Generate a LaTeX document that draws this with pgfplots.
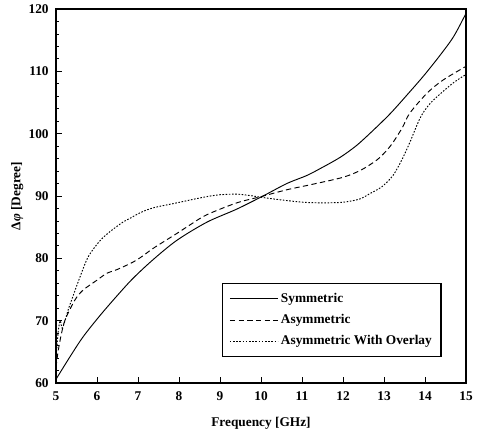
\documentclass[border=0pt]{standalone}
\usepackage{fontspec}
\setmainfont{Liberation Serif}
\usepackage{pgfplots}
\pgfplotsset{compat=1.18}

\begin{document}
\begin{tikzpicture}
\begin{axis}[
  name=ax,
  scale only axis,
  width=307.5pt, height=280.5pt,
  xmin=5, xmax=15, ymin=60, ymax=120,
  xtick={5,6,...,15}, ytick={60,70,...,120},
  minor y tick num=4,
  tick align=inside, tick pos=left,
  major tick length=4.5pt, minor tick length=2.5pt,
  axis line style={line width=0.9pt},
  every tick/.style={line width=0.6pt},
  /pgf/number format/assume math mode=true,
  tick label style={font=\fontsize{10}{12}\selectfont\bfseries},
  xticklabel style={yshift=-3pt},
  yticklabel style={xshift=-2pt},
  xlabel={Frequency [GHz]},
  ylabel={Δ\textit{φ} [Degree]},
  label style={font=\fontsize{10}{12}\selectfont\bfseries},
  xlabel style={at={(axis description cs:0.5,0)}, anchor=center, yshift=-30pt},
  ylabel style={at={(axis description cs:0,0.5)}, anchor=center, yshift=29pt},
  legend style={at={(0.941,0.267)}, anchor=north east, draw=black, line width=1pt,
    font=\fontsize{10}{12}\selectfont\bfseries, row sep=3.5pt,
    inner xsep=5pt, inner ysep=5pt},
  legend cell align=left,
  legend image code/.code={\draw[#1, line width=0.7pt] (0pt,0pt) -- (36pt,0pt);},
]
\addplot[black, line width=0.7pt, smooth] coordinates {
  (5,60.6)(5.34,64.2)(5.66,67.4)(6.07,70.8)(6.49,74.0)(6.88,76.8)(7.37,79.8)
  (7.95,82.9)(8.68,85.8)(9.41,87.9)(10.05,90.0)(10.63,92.0)(11.12,93.3)
  (11.5,94.6)(11.93,96.2)(12.33,98.1)(12.73,100.5)(13.15,103.2)(13.56,106.2)
  (13.97,109.3)(14.37,112.6)(14.7,115.6)(15,119.3)};
\addplot[black, line width=0.7pt, smooth, dash pattern=on 4pt off 2.5pt] coordinates {
  (5.0,62.5)(5.05,65)(5.12,67.5)(5.22,70.1)(5.46,73.3)(5.66,74.9)(6.0,76.5)
  (6.24,77.6)(6.49,78.2)(6.88,79.4)(7.12,80.4)(7.37,81.6)(7.95,84.0)(8.3,85.5)
  (8.68,87.0)(9.41,88.9)(10.0,89.9)(10.63,91.0)(11.2,91.8)(12.0,93.0)
  (12.45,94.2)(12.83,95.8)(13.05,97.2)(13.22,98.6)(13.45,101)(13.63,103.3)
  (14.05,106.5)(14.44,108.6)(15,110.8)};
\addplot[black, line width=0.7pt, smooth, dash pattern=on 1.2pt off 1.2pt] coordinates {
  (5.0,64)(5.05,68)(5.1,70)(5.15,68.8)(5.22,70)(5.3,71.8)(5.38,73.3)(5.59,77.1)
  (5.79,80.3)(6.07,82.8)(6.32,84.3)(6.63,85.8)(6.8,86.4)(7.05,87.3)(7.37,88.1)
  (7.95,88.9)(8.3,89.4)(8.68,89.9)(9.0,90.2)(9.41,90.3)(9.7,90.1)(10.0,89.8)
  (10.46,89.4)(11.02,89.0)(11.5,88.9)(12.0,89.0)(12.4,89.5)(12.66,90.4)
  (12.95,91.5)(13.22,93.3)(13.45,96)(13.63,98.6)(13.88,102.5)(14.08,104.5)
  (14.29,105.9)(14.68,108.1)(15,109.5)};
\legend{Symmetric, Asymmetric, Asymmetric With Overlay}
\coordinate (sw) at (rel axis cs:0,0);
\coordinate (ne) at (rel axis cs:1,1);
\end{axis}
\pgfresetboundingbox
\path[use as bounding box] ([shift={(-42pt,-36pt)}]sw) rectangle ([shift={(10.5pt,6.75pt)}]ne);
\end{tikzpicture}
\end{document}
